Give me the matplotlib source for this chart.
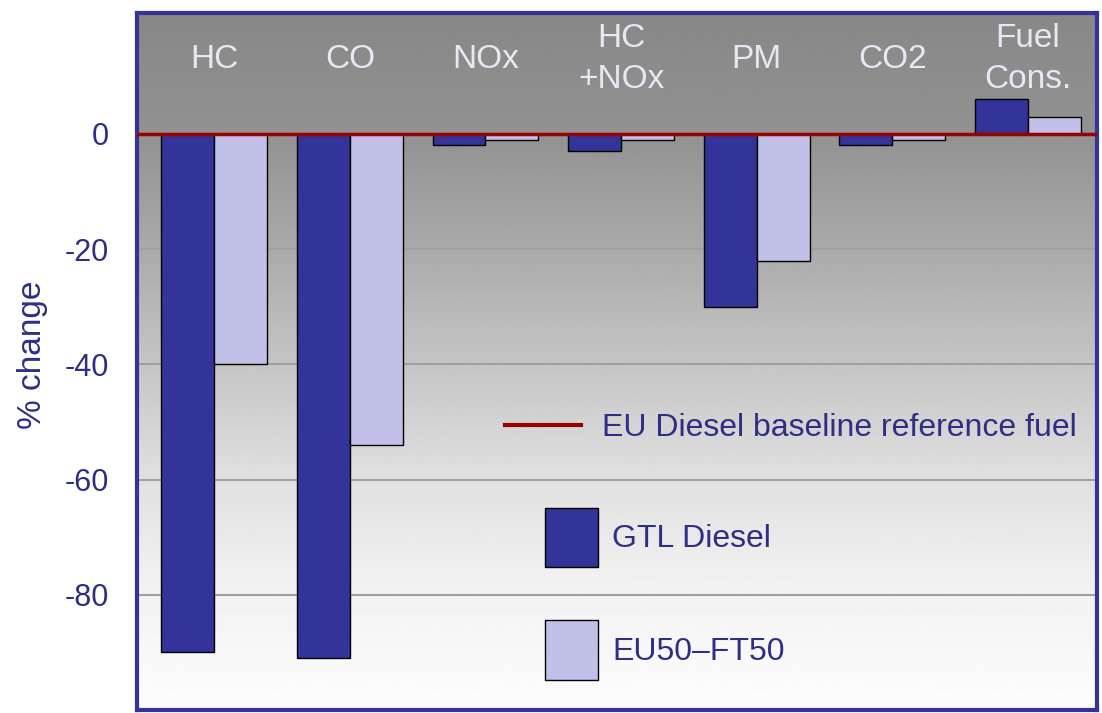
import numpy as np
import matplotlib
matplotlib.use('Agg')
import matplotlib.pyplot as plt
from matplotlib.lines import Line2D
from matplotlib.patches import Patch

plt.rcParams['font.family'] = ['Liberation Sans', 'DejaVu Sans']
plt.rcParams['axes.unicode_minus'] = False

categories = ['HC', 'CO', 'NOx', 'HC\n+NOx', 'PM', 'CO2', 'Fuel\nCons.']
gtl = [-90, -91, -2, -3, -30, -2, 6]
eu50 = [-40, -54, -1, -1, -22, -1, 3]
yticks = [0, -20, -40, -60, -80]

navy = '#333399'
lavender = '#c0c0e8'
textc = '#2e2e85'

fig = plt.figure(figsize=(11.02, 7.13), dpi=100)
ax = fig.add_axes([0.1243, 0.0042, 0.8712, 0.9776])

# grey gradient background (dark at top, near white at bottom)
fr = np.linspace(0, 1, 400)
shade = np.interp(fr, [0, 0.17, 0.33, 0.5, 0.67, 0.83, 1.0],
                  [0.99, 0.95, 0.88, 0.77, 0.66, 0.57, 0.53])
ax.imshow(shade[::-1, None], cmap='gray', vmin=0, vmax=1, aspect='auto',
          extent=[0, 1, 0, 1], transform=ax.transAxes, zorder=0)

x = np.arange(len(categories))
w = 0.39
ax.bar(x - w, gtl, w, align='edge', color=navy, edgecolor='black', linewidth=1, zorder=3)
ax.bar(x, eu50, w, align='edge', color=lavender, edgecolor='black', linewidth=1, zorder=3)

for g in yticks[1:]:
    ax.axhline(g, color='#a0a0a0', lw=1.5, zorder=1)
ax.axhline(0, color='#990000', lw=2.5, zorder=4)

for i, c in enumerate(categories):
    ax.text(i, 13, c, ha='center', va='center', fontsize=24, color='#e8e8f5',
            linespacing=1.4, zorder=5)

ax.set_xlim(-0.57, 6.51)
ax.set_ylim(-100, 21)
ax.set_xticks([])
ax.set_yticks(yticks)
ax.tick_params(axis='y', length=0, pad=20, labelsize=22, labelcolor=textc)
ax.set_ylabel('% change', fontsize=24, color=textc)
ax.yaxis.set_label_coords(-0.093, 0.509)

for s in ax.spines.values():
    s.set_color(navy)
    s.set_linewidth(3)

leg1 = ax.legend([Line2D([0], [0], color='#990000', lw=3)],
                 ['EU Diesel baseline reference fuel'],
                 loc='center left', bbox_to_anchor=(0.383, 0.405),
                 frameon=False, fontsize=23, handlelength=2.4,
                 handletextpad=0.65, borderpad=0, borderaxespad=0)
for t in leg1.get_texts():
    t.set_color(textc)
ax.add_artist(leg1)

leg2 = ax.legend([Patch(facecolor=navy, edgecolor='black'),
                  Patch(facecolor=lavender, edgecolor='black')],
                 ['GTL Diesel', 'EU50\u2013FT50'],
                 loc='center left', bbox_to_anchor=(0.425, 0.167),
                 frameon=False, fontsize=23, handlelength=1.65, handleheight=2.5,
                 handletextpad=0.45, labelspacing=1.65, borderpad=0, borderaxespad=0)
for t in leg2.get_texts():
    t.set_color(textc)

fig.savefig('out.png', dpi=100)
